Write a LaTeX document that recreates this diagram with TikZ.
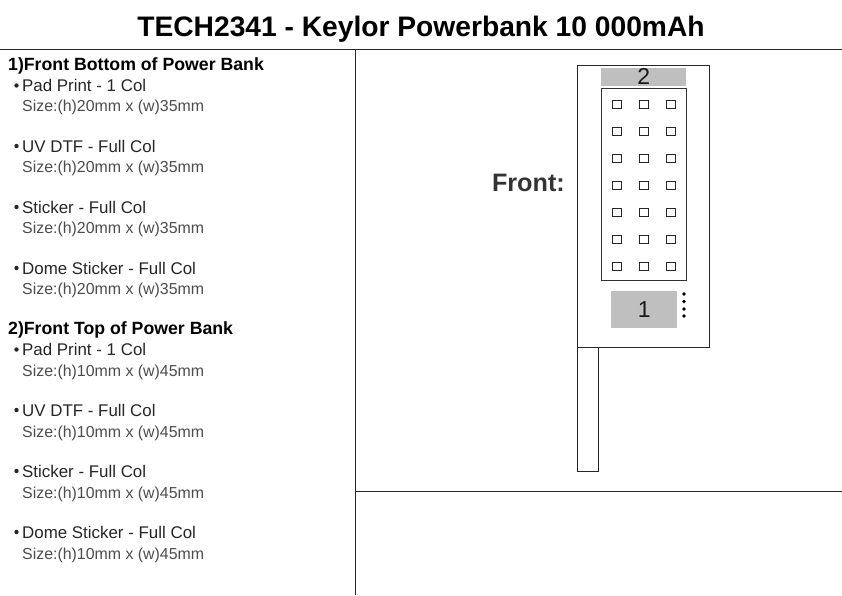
\documentclass[tikz,border=0pt]{standalone}
\usepackage{fontspec}
\setmainfont{Liberation Sans}
\tikzset{
  frame/.style={draw=black!85,line width=0.9pt},
  head/.style={anchor=base west,inner sep=0pt,font=\fontsize{17.7}{20}\selectfont\bfseries},
  item/.style={anchor=base west,inner sep=0pt,font=\fontsize{16.9}{18}\selectfont,text=black!85},
  size/.style={anchor=base west,inner sep=0pt,font=\fontsize{15.9}{18}\selectfont,text=black!70},
  bul/.style={circle,fill=black!85,inner sep=0pt,minimum size=4.4pt},
  pin/.style={draw=black!85,line width=1pt,fill=white,minimum size=8.6pt,inner sep=0pt},
  zone/.style={fill=black!25,inner sep=0pt,font=\fontsize{23}{24}\selectfont,text=black!90},
  dot/.style={circle,fill=black,inner sep=0pt,minimum size=3.6pt}
}
\begin{document}
\begin{tikzpicture}[x=1pt,y=-1pt]
\useasboundingbox (0,0) rectangle (842,595);
\node[anchor=base,inner sep=0pt,font=\fontsize{28.2}{30}\selectfont\bfseries] (title) at (421,36) {TECH2341 - Keylor Powerbank 10 000mAh};
\coordinate (hl) at (0,49.5); \coordinate (hr) at (842,49.5);
\coordinate (vt) at (355,49.5); \coordinate (vb) at (355,595);
\coordinate (ml) at (355,491); \coordinate (mr) at (842,491);
\draw[frame] (hl) -- (hr);
\draw[frame] (vt) -- (vb);
\draw[frame] (ml) -- (mr);
\node[head] (h1) at (8,70) {1)Front Bottom of Power Bank};
\node[head] (h2) at (8,334) {2)Front Top of Power Bank};
\foreach \n/\y/\z/\t/\s in {
 a/91.5/111/Pad Print - 1 Col/20mm x (w)35mm,
 b/152/172/UV DTF - Full Col/20mm x (w)35mm,
 c/213/233/Sticker - Full Col/20mm x (w)35mm,
 d/274/294/Dome Sticker - Full Col/20mm x (w)35mm,
 e/355.5/376/Pad Print - 1 Col/10mm x (w)45mm,
 f/416/437/UV DTF - Full Col/10mm x (w)45mm,
 g/477/498/Sticker - Full Col/10mm x (w)45mm,
 h/538/559/Dome Sticker - Full Col/10mm x (w)45mm}{
  \node[bul] (b\n) at (16.5,\y-6) {};
  \node[item] (t\n) at (22,\y) {\t};
  \node[size] (s\n) at (22,\z) {Size:(h)\s};
}
\node[anchor=base east,inner sep=0pt,font=\fontsize{25.2}{26}\selectfont\bfseries,text=black!80] (front) at (565,191) {Front:};
\node[frame,draw,fill=white,minimum width=20.5pt,minimum height=124pt,inner sep=0pt,anchor=north west] (stem) at (577,347) {};
\node[frame,draw,fill=white,minimum width=132pt,minimum height=282pt,inner sep=0pt,anchor=north west] (body) at (577,65) {};
\node[zone,minimum width=85pt,minimum height=18.5pt,anchor=north west] (z2) at (601,67.5) {2};
\node[draw=black!80,line width=0.9pt,fill=white,minimum width=85pt,minimum height=192pt,inner sep=0pt,anchor=north west] (panel) at (601,88) {};
\node[zone,minimum width=66pt,minimum height=37pt,anchor=north west] (z1) at (611,291) {1};
\foreach \y in {104.5,131.5,158.5,185.5,212.5,239.5,266.5}
  \foreach \x in {617,644,671}
    \node[pin] at (\x,\y) {};
\foreach \y in {294,301.5,309,316}
  \node[dot] at (684,\y) {};
\end{tikzpicture}
\end{document}
